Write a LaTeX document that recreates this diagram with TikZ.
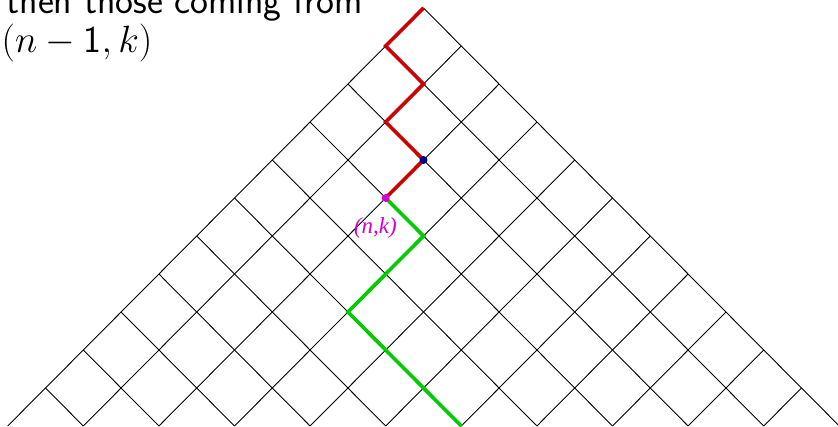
\RequirePackage{fix-cm}
\documentclass[tikz,border=0pt]{standalone}
\usepackage{fontspec}
\newfontfamily\labelfont{Liberation Serif}
\definecolor{pathred}{RGB}{204,0,0}
\definecolor{pathgreen}{RGB}{0,204,0}
\definecolor{dotmag}{RGB}{210,0,210}
\definecolor{dotblue}{RGB}{0,0,140}
\begin{document}
\begin{tikzpicture}[x=1pt,y=-1pt,
  grid/.style={draw=black,line width=0.9pt},
  redpath/.style={draw=pathred,line width=3.6pt,line join=miter},
  greenpath/.style={draw=pathgreen,line width=3.6pt,line join=miter},
  dotstyle/.style={circle,inner sep=0pt,minimum size=8pt},
  maintext/.style={inner sep=0pt,anchor=base west,font=\fontsize{38}{41}\selectfont\sffamily},
  labeltext/.style={inner sep=0pt,anchor=base east,text=dotmag,font=\fontsize{23}{26}\selectfont\labelfont\itshape}]
\useasboundingbox (0,0) rectangle (838,427);
\clip (0,0) rectangle (838,427);
\def\ax{423.5}\def\ay{8}\def\hs{37.8}\def\vs{38}
\foreach \r in {0,...,11}{
  \foreach \c in {0,...,\r}{
    \coordinate (p\r-\c) at ({\ax+(2*\c-\r)*\hs},{\ay+\r*\vs});
  }
}
\foreach \i [evaluate=\i as \j using int(11-\i)] in {0,...,10}{
  \draw[grid] (p\i-0) -- (p11-\j);
  \draw[grid] (p\i-\i) -- (p11-\i);
}
\draw[redpath] (p0-0) -- (p1-0) -- (p2-1) -- (p3-1) -- (p4-2) -- (p5-2);
\draw[greenpath] (p5-2) -- (p6-3) -- (p8-3) -- (p11-6);
\node[dotstyle,fill=dotblue] (blue) at (p4-2) {};
\node[dotstyle,fill=dotmag] (nk) at (p5-2) {};
\node[labeltext] (nklabel) at (397,234) {(n,k)};
\node[maintext] (line1) at (6.5,14) {then those coming from};
\node[maintext] (line2) at (1.5,53) {$(n-\mbox{\sffamily 1},k)$};
\end{tikzpicture}
\end{document}
